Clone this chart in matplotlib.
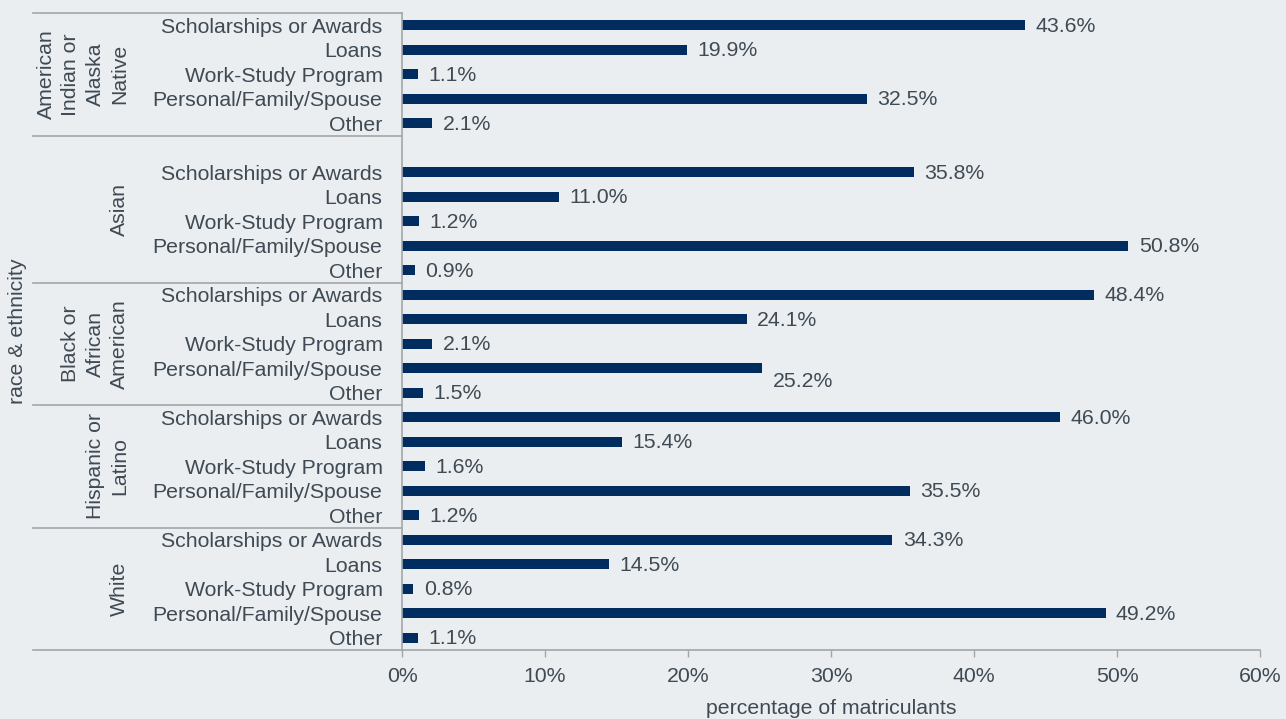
import matplotlib.pyplot as plt
import matplotlib.transforms as mtransforms

plt.rcParams['font.family'] = ['Liberation Sans', 'DejaVu Sans']

groups = ['American\nIndian or\nAlaska\nNative', 'Asian', 'Black or\nAfrican\nAmerican',
          'Hispanic or\nLatino', 'White']
sources = ['Scholarships or Awards', 'Loans', 'Work-Study Program',
           'Personal/Family/Spouse', 'Other']
aian = [43.6, 19.9, 1.1, 32.5, 2.1]
asian = [35.8, 11.0, 1.2, 50.8, 0.9]
black = [48.4, 24.1, 2.1, 25.2, 1.5]
hispanic = [46.0, 15.4, 1.6, 35.5, 1.2]
white = [34.3, 14.5, 0.8, 49.2, 1.1]
values = [aian, asian, black, hispanic, white]
xticks = [0, 10, 20, 30, 40, 50, 60]

# the Asian block has one empty row on top in the original
blank_rows = [0, 1, 0, 0, 0]

bg = '#EAEEF0'
bar_color = '#002C5F'
text_color = '#3F4A54'
line_color = '#A3A6A8'
fs = 15.3

fig = plt.figure(figsize=(12.86, 7.19), dpi=100, facecolor=bg)
ax = fig.add_axes([402 / 1286, 1 - 650 / 719, 858 / 1286, 637 / 719])
ax.set_facecolor(bg)

ypos, labels, vals, bounds, centers = [], [], [], [-0.5], []
row = 0
for g, vs, blank in zip(groups, values, blank_rows):
    start = row
    row += blank
    for s, v in zip(sources, vs):
        ypos.append(row)
        labels.append(s)
        vals.append(v)
        row += 1
    bounds.append(row - 0.5)
    centers.append((start + row - 1) / 2)

ax.barh(ypos, vals, height=0.41, color=bar_color)
for y, v in zip(ypos, vals):
    dy = 0.5 if (v == 25.2) else 0
    ax.annotate(f'{v:.1f}%', (v, y + dy + 0.05), xytext=(7.5, 0), textcoords='offset points',
                va='center', ha='left', fontsize=fs, color=text_color)

ax.set_ylim(row - 0.5, -0.5)
ax.set_xlim(0, 60)
ax.set_yticks(ypos)
ax.set_yticklabels(labels)
ax.set_xticks(xticks)
ax.set_xticklabels([f'{t}%' for t in xticks])
ax.tick_params(axis='y', length=0, pad=14, labelsize=fs, labelcolor=text_color)
ax.tick_params(axis='x', length=5, width=1, color=line_color, pad=7, labelsize=fs,
               labelcolor=text_color)

for side in ['top', 'right']:
    ax.spines[side].set_visible(False)
for side in ['left', 'bottom']:
    ax.spines[side].set_color(line_color)
    ax.spines[side].set_linewidth(1.2)

trans = mtransforms.blended_transform_factory(fig.transFigure, ax.transData)
for b in bounds:
    ax.plot([33 / 1286, 402 / 1286], [b, b], transform=trans, color=line_color,
            lw=1.2, clip_on=False)
for g, c in zip(groups, centers):
    ax.text(129 / 1286, c, g, transform=trans, rotation=90, ha='right', va='center',
            multialignment='center', fontsize=fs, color=text_color, linespacing=1.35)

fig.text(18 / 1286, 1 - 331 / 719, 'race & ethnicity', rotation=90, ha='center',
         va='center', fontsize=fs, color=text_color)
fig.text(831 / 1286, 1 - 708 / 719, 'percentage of matriculants', ha='center',
         va='center', fontsize=fs, color=text_color)

fig.savefig('out.png', dpi=100, facecolor=bg)
